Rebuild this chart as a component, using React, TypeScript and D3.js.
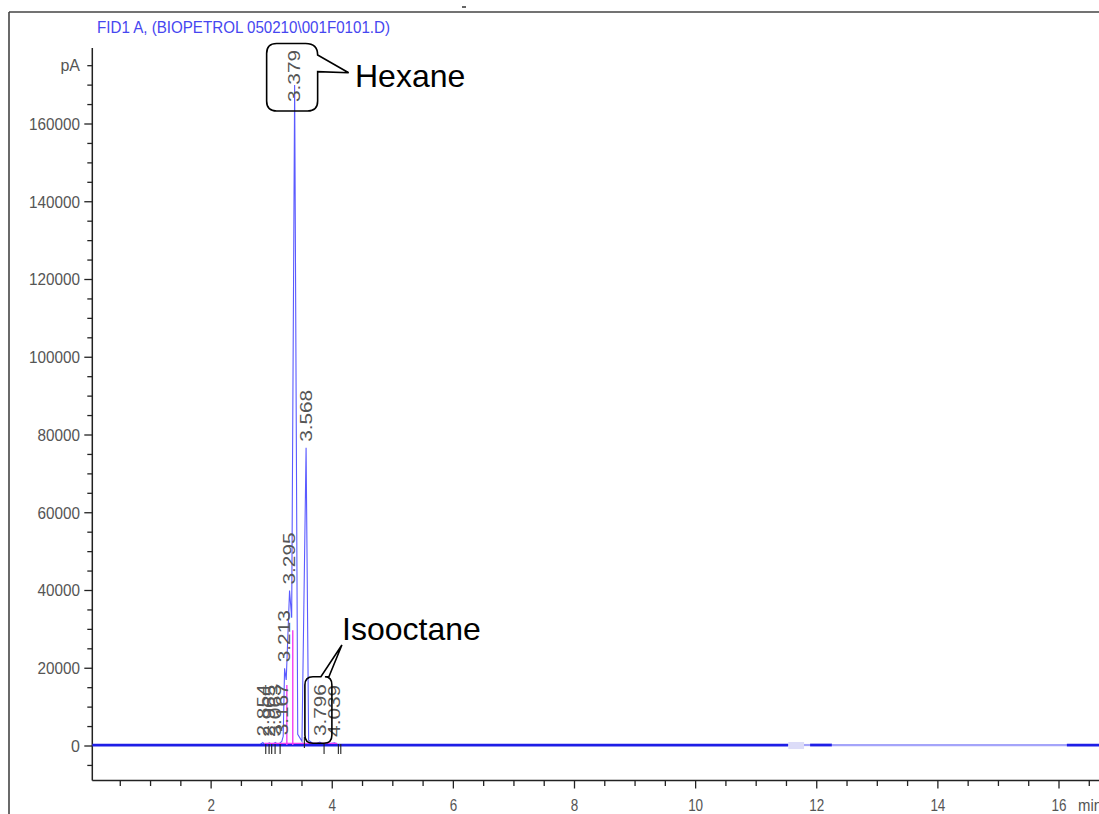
import React from "react";
import * as d3 from "d3";

// chromatogram trace (min, pA)
const traceTime = [0.04, 2.8, 2.854, 2.89, 2.965, 3.0, 3.063, 3.1, 3.167, 3.19, 3.213, 3.24, 3.295, 3.33, 3.379, 3.43, 3.5, 3.568, 3.61, 3.7, 3.796, 3.86, 4.039, 4.1, 16.8];
const traceSignal = [250, 250, 900, 300, 800, 300, 900, 300, 1200, 2500, 20000, 17000, 40000, 33000, 170000, 3000, 1200, 76700, 1500, 400, 1000, 300, 800, 250, 250];

// integrated peaks
const peakTimes = [2.854, 2.965, 3.063, 3.167, 3.213, 3.295, 3.379, 3.568, 3.796, 4.039];
const peakLabels = ["2.854", "2.965", "3.063", "3.167", "3.213", "3.295", "3.379", "3.568", "3.796", "4.039"];
const peakHeights = [900, 800, 900, 1200, 20000, 40000, 170000, 76700, 1000, 800];

// peak start / end event marks
const eventTimes = [2.902, 2.957, 3.0, 3.056, 3.139, 3.865, 4.101, 4.141];
const dropTimes = [3.25, 3.348];
const dropValues = [15700, 29800];

// baseline rendering segments
const segStart = [0.04, 11.53, 11.79, 11.89, 12.25, 16.13];
const segEnd = [11.53, 11.79, 11.89, 12.25, 16.13, 16.8];
const segTone = ["dark", "faint", "light", "dark", "light", "dark"];

const xTickLabels = [2, 4, 6, 8, 10, 12, 14, 16];
const yTickLabels = [0, 20000, 40000, 60000, 80000, 100000, 120000, 140000, 160000];

const narrow = "'Liberation Sans Narrow', 'Arial Narrow', 'Liberation Sans', Arial, sans-serif";
const sans = "'Liberation Sans', Arial, sans-serif";

export default function App() {
  const width = 1099;
  const height = 814;

  const x = d3.scaleLinear().domain([0, 16]).range([90, 1059]);
  const y = d3.scaleLinear().domain([0, 160000]).range([746, 124]);

  const axisY = 780.5;
  const axisX = 92.3;

  const line = d3
    .line<number>()
    .x((d, i) => x(traceTime[i]))
    .y((d) => y(d));

  const xMinor = d3.range(0.5, 16.75, 0.5);
  const yMinor = d3.range(-5000, 175001, 5000);

  const labelLen = 52;

  // callout anchors
  const hx = x(3.379);
  const ix = x(3.796);

  return (
    <svg
      width={width}
      height={height}
      style={{ position: "absolute", left: 0, top: 0, background: "#fff" }}
    >
      {/* frame */}
      <line x1={9} y1={12} x2={width} y2={12} stroke="#444" strokeWidth={1.6} />
      <line x1={9} y1={12} x2={9} y2={height} stroke="#444" strokeWidth={1.6} />
      <line x1={462} y1={7} x2={466} y2={7} stroke="#333" strokeWidth={1.5} />

      <text
        x={97}
        y={33}
        fill="#4646f0"
        fontFamily={narrow}
        fontSize={17}
        textLength={293}
        lengthAdjust="spacingAndGlyphs"
      >
        {"FID1 A,  (BIOPETROL 050210\\001F0101.D)"}
      </text>

      {/* y axis */}
      <line x1={axisX} y1={48} x2={axisX} y2={axisY} stroke="#222" strokeWidth={1.5} />
      {yMinor.map((v) => {
        const major = v % 20000 === 0 && v >= 0 && v <= 160000;
        return (
          <line
            key={"ym" + v}
            x1={axisX - (major ? 8 : 5)}
            x2={axisX}
            y1={y(v)}
            y2={y(v)}
            stroke="#222"
            strokeWidth={1.3}
          />
        );
      })}
      {yTickLabels.map((v) => (
        <text
          key={"yl" + v}
          x={80}
          y={y(v)}
          dy="0.36em"
          textAnchor="end"
          fill="#555"
          fontFamily={narrow}
          fontSize={16}
          textLength={v === 0 ? undefined : String(v).length * 8.5}
          lengthAdjust="spacingAndGlyphs"
        >
          {v}
        </text>
      ))}
      <text x={80} y={y(175000)} dy="0.36em" textAnchor="end" fill="#555" fontFamily={narrow} fontSize={16}>
        pA
      </text>

      {/* x axis */}
      <line x1={axisX} y1={axisY} x2={width} y2={axisY} stroke="#222" strokeWidth={1.5} />
      {xMinor.map((t) => {
        const major = t % 2 === 0;
        return (
          <line
            key={"xm" + t}
            x1={x(t)}
            x2={x(t)}
            y1={axisY}
            y2={axisY + (major ? 8 : 5.5)}
            stroke="#222"
            strokeWidth={1.3}
          />
        );
      })}
      {xTickLabels.map((t) => (
        <text
          key={"xl" + t}
          x={x(t)}
          y={811}
          textAnchor="middle"
          fill="#555"
          fontFamily={narrow}
          fontSize={17}
          textLength={String(t).length * 7.5}
          lengthAdjust="spacingAndGlyphs"
        >
          {t}
        </text>
      ))}
      <text
        x={x(16) + 19}
        y={811}
        fill="#555"
        fontFamily={narrow}
        fontSize={17}
        textLength={24}
        lengthAdjust="spacingAndGlyphs"
      >
        min
      </text>

      {/* signal */}
      <path d={line(traceSignal) || ""} fill="none" stroke="#5a5aff" strokeWidth={1.1} />

      {/* baseline band */}
      {segStart.map((s, i) => {
        const tone = segTone[i];
        if (tone === "faint") {
          return (
            <rect
              key={"seg" + i}
              x={x(s)}
              y={y(250) - 3}
              width={x(segEnd[i]) - x(s)}
              height={7}
              fill="#dcdcf8"
            />
          );
        }
        return (
          <line
            key={"seg" + i}
            x1={x(s)}
            x2={x(segEnd[i])}
            y1={y(250)}
            y2={y(250)}
            stroke={tone === "dark" ? "#1e1ee6" : "#a4a4fa"}
            strokeWidth={tone === "dark" ? 2.8 : 2.2}
          />
        );
      })}

      {/* integration baseline and drop lines */}
      <line x1={x(2.88)} x2={x(4.08)} y1={y(700)} y2={y(700)} stroke="#f040f0" strokeWidth={1.3} />
      {dropTimes.map((t, i) => (
        <line
          key={"dr" + i}
          x1={x(t)}
          x2={x(t)}
          y1={y(250)}
          y2={y(dropValues[i])}
          stroke="#f040f0"
          strokeWidth={1.4}
        />
      ))}

      {/* peak event marks */}
      {eventTimes.map((t, i) => (
        <line
          key={"ev" + i}
          x1={x(t)}
          x2={x(t)}
          y1={y(250) - 1}
          y2={y(250) + 9}
          stroke="#222"
          strokeWidth={1.1}
        />
      ))}
      <line x1={x(3.54)} x2={x(3.54)} y1={737} y2={748} stroke="#222" strokeWidth={1.1} />

      {/* peak labels */}
      {peakTimes.map((t, i) => {
        const bottom = Math.max(y(peakHeights[i]) - 6, 50 + labelLen);
        return (
          <text
            key={"pk" + i}
            transform={`translate(${x(t)},${bottom}) rotate(-90)`}
            dy="0.36em"
            fill="#555"
            fontFamily={sans}
            fontSize={16}
            textLength={labelLen}
            lengthAdjust="spacingAndGlyphs"
          >
            {peakLabels[i]}
          </text>
        );
      })}

      {/* Hexane callout */}
      <path
        d={`M ${hx - 18} 43.5 L ${hx + 11} 43.5 Q ${hx + 23} 43.5 ${hx + 23} 55
            L ${hx + 54} 72.7 L ${hx + 23} 71.7 L ${hx + 23} 101 Q ${hx + 23} 111 ${hx + 13} 111
            L ${hx - 18} 111 Q ${hx - 28} 111 ${hx - 28} 101 L ${hx - 28} 53.5 Q ${hx - 28} 43.5 ${hx - 18} 43.5 Z`}
        fill="none"
        stroke="#000"
        strokeWidth={1.6}
      />
      <text x={355} y={87} fontFamily={sans} fontSize={32} fill="#000">
        Hexane
      </text>

      {/* Isooctane callout */}
      <path
        d={`M ${ix - 7} 676.7 L ${ix + 1} 676.7 L ${ix + 22} 645 L ${ix + 9} 676.7 L ${ix + 5} 676.7
            Q ${ix + 12} 676.7 ${ix + 12} 685 L ${ix + 12} 735 Q ${ix + 12} 743.3 ${ix + 4} 743.3
            L ${ix - 7} 743.3 Q ${ix - 15} 743.3 ${ix - 15} 735 L ${ix - 15} 685 Q ${ix - 15} 676.7 ${ix - 7} 676.7 Z`}
        fill="none"
        stroke="#000"
        strokeWidth={1.6}
      />
      <text x={342} y={640} fontFamily={sans} fontSize={32} fill="#000">
        Isooctane
      </text>
    </svg>
  );
}
